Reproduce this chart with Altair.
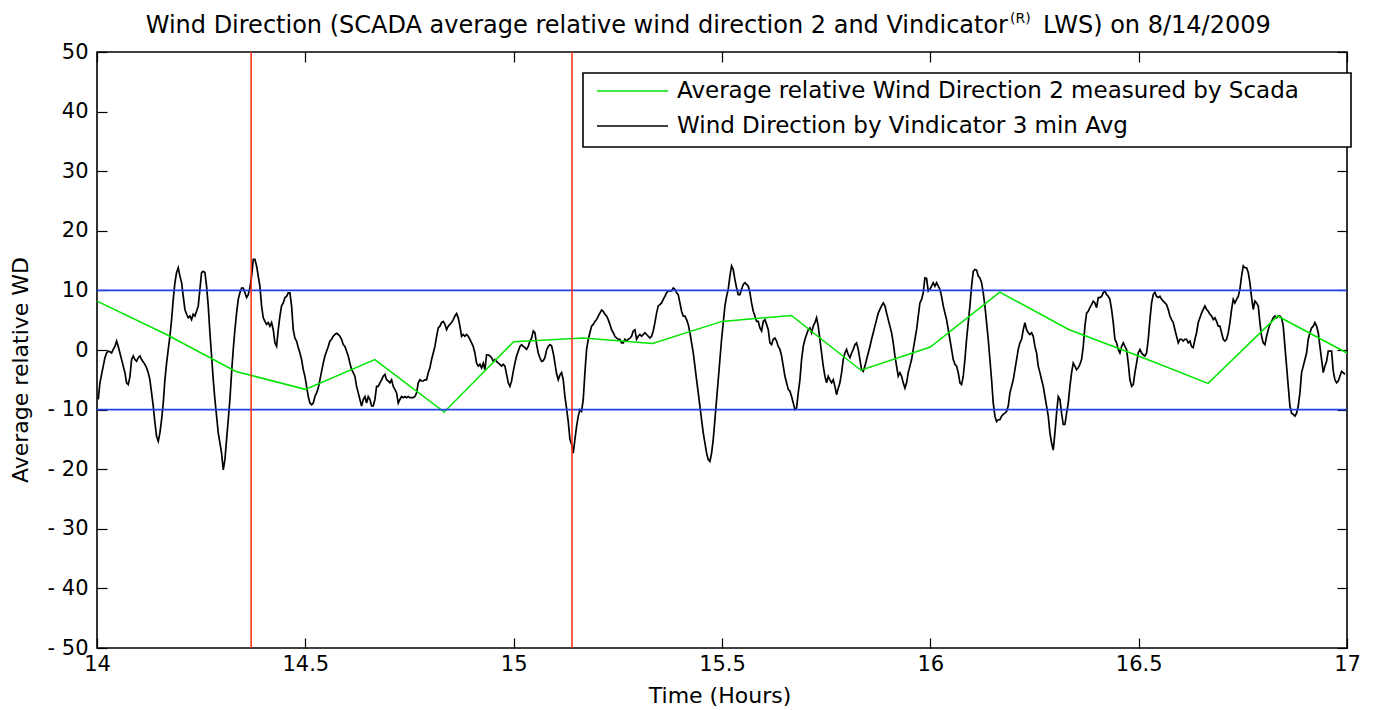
import altair as alt
import pandas as pd

# ---------------- data ----------------
# Vindicator 3-min average wind direction, regularly sampled (every 0.004 h from 14.003 h)
vind_start_hour = 14.003
vind_step_hour = 0.004
vind_part1 = [-8.3, -5.5, -4.1, -2.7, -1.3, -0.5, -0.2, -0.3, -0.5, 0.1,
              0.6, 1.5, 0.6, -0.5, -1.6, -2.7, -3.8, -5.5, -5.8, -4.5,
              -1.6, -1.0, -1.6, -1.9, -1.3, -1.0, -1.6, -2.0, -2.4, -3.0,
              -3.8, -5.0, -7.2, -9.4, -12.2, -14.5, -15.3, -13.9, -11.7, -8.9,
              -5.0, -2.2, 0.1, 2.3, 5.1, 8.5, 11.3, 13.0, 13.8, 12.4,
              11.3, 9.0, 6.8, 6.0, 5.4, 5.7, 5.1, 6.0, 5.7, 6.5,
              7.4, 10.2, 13.0, 13.2, 13.0, 10.7, 7.4, 2.9, -1.0, -5.0,
              -8.3, -11.1, -13.9, -15.6, -17.3, -20.1, -18.4, -15.0, -11.7, -8.3,
              -3.8, 0.1, 3.4, 6.2, 8.5, 9.6, 10.4, 10.4, 9.6, 8.8,
              9.3]
vind_part2 = [10.4, 12.4, 15.2, 15.2, 14.1, 12.4, 10.7, 7.4, 5.4, 4.8,
              4.3, 4.6, 4.0, 4.6, 3.4, 1.2, 0.6, 3.4, 5.7, 7.4,
              7.9, 8.8, 9.0, 9.6, 9.6, 7.4, 3.4, 2.0, 1.5, 0.4,
              -0.5, -1.6, -3.3, -4.4, -6.1, -7.8, -8.9, -9.2, -8.9, -7.8,
              -7.2, -6.4, -5.0, -3.6, -2.2, -1.0, -0.2, 0.6, 1.5, 1.8,
              2.3, 2.6, 2.8, 2.6, 2.3, 1.8, 0.9, 0.6, -0.2, -1.0,
              -2.2, -3.3, -3.8, -4.4, -6.1, -7.2, -8.3, -9.4, -8.3, -7.8,
              -8.9, -7.8, -8.3, -9.4, -9.4, -8.3, -6.1, -6.1, -5.5, -5.0,
              -4.4, -4.1, -5.0, -5.2, -5.5, -5.0, -6.1, -6.6, -7.2, -8.9,
              -8.3, -7.8, -8.0, -7.8, -8.0, -7.8]
vind_part3 = [-8.0, -8.0, -8.0, -7.8, -7.2, -5.5, -5.0, -5.2, -5.2, -5.0,
              -5.0, -3.8, -3.0, -1.6, -0.5, 0.6, 2.3, 3.7, 4.0, 4.6,
              4.8, 4.3, 3.4, 4.0, 4.3, 4.6, 5.1, 5.7, 6.1, 5.4,
              4.0, 2.3, 2.6, 2.3, 2.6, 2.3, 1.8, 1.2, 0.6, -0.5,
              -2.2, -2.7, -2.4, -3.0, -2.2, -3.3, -0.8, -0.8, -1.0, -1.3,
              -1.9, -1.6, -1.9, -2.2, -2.4, -2.7, -2.4, -2.7, -4.1, -5.5,
              -6.1, -5.2, -3.6, -2.2, -1.0, -0.2, 0.6, 0.9, 0.6, 0.4,
              0.1, 0.6, 1.5, 2.0, 3.2, 2.9, 1.0, -0.5, -1.3, -1.9,
              -1.8, -1.3, 0.0, 0.6, 0.9, 0.7, -0.5, -2.2, -4.0, -5.0,
              -4.2, -3.8, -5.0, -7.8, -9.8, -12.0]
vind_part4 = [-15.0, -15.8, -17.3, -15.0, -12.8, -11.1, -10.0, -10.3, -8.3, -3.8,
              0.1, 1.8, 2.9, 4.0, 4.3, 4.8, 5.1, 5.7, 6.2, 6.7,
              6.5, 6.0, 5.7, 5.1, 4.3, 3.4, 2.9, 2.3, 2.0, 1.8,
              1.8, 1.2, 1.2, 1.8, 1.5, 1.8, 2.0, 2.3, 3.2, 3.4,
              1.8, 2.3, 2.6, 2.3, 2.6, 2.9, 2.6, 2.3, 2.0, 2.3,
              3.2, 4.6, 6.2, 7.4, 7.6, 7.9, 8.5, 9.0, 9.6, 9.9,
              9.9, 9.9, 10.4, 10.2, 9.6, 9.3, 7.9, 6.5, 5.7, 5.7,
              5.1, 4.3, 2.9, 1.2, -0.5, -2.7, -5.0, -7.2, -9.4, -11.7,
              -13.9, -15.6, -17.3, -18.4, -18.7, -17.3, -15.0, -11.7, -8.3, -5.0,
              -1.6, 1.8, 4.6, 7.4, 9.0, 10.2]
vind_part5 = [12.4, 14.1, 13.5, 11.8, 10.4, 9.3, 9.3, 10.2, 11.0, 11.3,
              11.0, 10.7, 9.6, 7.9, 6.5, 5.7, 4.8, 4.8, 3.7, 3.2,
              4.8, 5.1, 4.3, 3.4, 1.2, 0.9, 1.8, 2.0, 1.5, 0.6,
              0.1, -1.0, -2.7, -4.4, -5.5, -6.6, -6.9, -7.8, -8.9, -10.0,
              -9.7, -7.2, -5.0, -1.6, 0.6, 1.8, 2.6, 3.4, 3.7, 2.9,
              4.0, 4.6, 5.4, 4.0, 1.8, -0.5, -2.7, -4.4, -5.5, -4.4,
              -5.0, -5.5, -5.0, -6.1, -7.5, -6.4, -5.5, -3.8, -1.6, -0.5,
              0.1, -0.8, -1.3, -0.5, 0.1, 0.9, 1.2, 0.1, -1.6, -3.3,
              -3.6, -2.7, -1.6, -0.5, 0.6, 1.8, 2.9, 4.0, 5.1, 6.2,
              6.8, 7.4, 7.9, 7.4, 6.2, 5.1]
vind_part6 = [4.0, 2.9, 1.2, -1.0, -2.7, -4.4, -3.8, -4.4, -5.5, -6.4,
              -5.5, -3.8, -2.7, -1.6, 0.1, 1.8, 3.4, 5.7, 7.9, 8.5,
              9.6, 12.1, 12.0, 9.9, 10.2, 10.7, 11.3, 10.7, 11.3, 10.7,
              10.2, 9.0, 7.4, 6.2, 5.1, 3.4, 1.8, 0.1, -1.6, -2.4,
              -2.7, -3.8, -5.5, -5.8, -4.4, -1.6, 1.8, 4.6, 7.4, 10.7,
              13.2, 13.5, 13.4, 12.4, 12.1, 11.3, 9.6, 7.4, 4.6, 1.8,
              -1.6, -5.0, -8.9, -11.1, -12.0, -11.7, -11.7, -11.1, -10.8, -10.6,
              -10.3, -9.4, -7.2, -6.1, -5.0, -3.3, -1.6, 0.1, 1.2, 1.8,
              3.4, 4.6, 3.4, 2.9, 2.6, 2.9, 2.3, 0.6, -0.5, -2.7,
              -3.8, -5.0, -6.1, -7.8, -9.4, -11.1]
vind_part7 = [-13.9, -15.6, -16.8, -13.9, -10.6, -7.8, -8.3, -10.6, -12.5, -12.5,
              -10.6, -8.9, -6.1, -3.8, -2.2, -2.7, -3.3, -3.0, -2.4, -1.6,
              0.6, 4.0, 6.2, 6.5, 7.1, 7.6, 8.2, 7.9, 7.1, 8.8,
              8.8, 9.0, 9.6, 9.9, 9.3, 9.0, 8.5, 6.8, 4.6, 1.8,
              1.2, 0.1, -0.5, 0.6, 1.2, 0.6, 0.1, -2.2, -5.0, -6.1,
              -5.8, -3.8, -2.2, -0.5, 0.1, -0.5, -0.8, -1.0, -0.5, 1.8,
              5.1, 7.9, 9.3, 9.7, 9.0, 8.8, 9.0, 8.5, 8.2, 7.9,
              7.6, 6.8, 5.7, 5.1, 4.6, 3.4, 2.3, 1.2, 1.8, 1.8,
              1.5, 1.8, 1.8, 1.2, 1.5, 0.6, 0.4, 1.8, 2.9, 4.6,
              5.4, 6.2, 6.8, 7.4, 6.8, 6.5]
vind_part8 = [6.0, 5.7, 5.1, 5.4, 4.8, 4.0, 4.0, 2.9, 1.8, 1.5,
              1.8, 2.9, 4.6, 6.8, 8.5, 7.9, 8.5, 9.0, 10.2, 12.4,
              14.1, 13.8, 13.8, 13.0, 11.3, 8.8, 6.8, 8.2, 7.9, 7.4,
              4.6, 2.3, 1.2, 0.9, 2.3, 3.4, 4.3, 4.8, 5.4, 5.7,
              5.4, 5.7, 5.7, 5.4, 4.0, 0.6, -2.7, -6.1, -9.4, -10.6,
              -10.8, -11.1, -10.6, -9.4, -7.2, -3.8, -2.7, -1.6, -0.5, 1.8,
              2.9, 3.7, 4.0, 4.6, 4.0, 2.9, 0.6, -1.6, -3.8, -2.7,
              -1.9, -0.2, -0.2, -0.2, -3.5, -5.0, -5.5, -5.2, -4.4, -3.6,
              -3.8, -4.1]

# SCADA average relative wind direction 2 (10-minute values)
scada_hours = [14.0, 14.1667, 14.3333, 14.5, 14.6667, 14.8333, 15.0, 15.1667,
               15.3333, 15.5, 15.6667, 15.8333, 16.0, 16.1667, 16.3333, 16.5,
               16.6667, 16.8333, 17.0]
scada_wd = [8.2, 2.6, -3.6, -6.6, -1.6, -10.4, 1.4, 2.0,
            1.1, 4.8, 5.8, -3.4, 0.5, 9.7, 3.4, -1.0,
            -5.6, 5.7, -0.5]

limit_levels = [10, -10]          # blue horizontal limits
event_hours = [14.37, 15.14]      # red vertical markers

x_ticks = [14, 14.5, 15, 15.5, 16, 16.5, 17]
y_ticks = [-50, -40, -30, -20, -10, 0, 10, 20, 30, 40, 50]
x_domain = [14, 17]
y_domain = [-50, 50]

title_main = "Wind Direction (SCADA average relative wind direction 2 and Vindicator"
title_sup = "(R)"
title_tail = "LWS) on 8/14/2009"
x_title = "Time (Hours)"
y_title = "Average relative WD"
legend_labels = ["Average relative Wind Direction 2 measured by Scada",
                 "Wind Direction by Vindicator 3 min Avg"]

# ---------------- frames ----------------
vind_wd = (vind_part1 + vind_part2 + vind_part3 + vind_part4 +
           vind_part5 + vind_part6 + vind_part7 + vind_part8)
vind_hours = [round(vind_start_hour + vind_step_hour * i, 4) for i in range(len(vind_wd))]
vind_df = pd.DataFrame({"hour": vind_hours, "wd": vind_wd})
scada_df = pd.DataFrame({"hour": scada_hours, "wd": scada_wd})
limit_df = pd.DataFrame({"wd": limit_levels})
event_df = pd.DataFrame({"hour": event_hours})
frame_df = pd.DataFrame({"hour": x_domain, "wd": y_domain})
one = pd.DataFrame({"k": [0]})

FONT = "DejaVu Sans"
GREEN = "#00e600"
BLUE = "#2342e6"
RED = "#ff2a10"

xscale = alt.Scale(domain=x_domain, nice=False, zero=False)
yscale = alt.Scale(domain=y_domain, nice=False, zero=False)

common_axis = dict(grid=False, domain=False, ticks=True, tickSize=10, offset=-10,
                   tickColor="black", tickWidth=1.2, title=None,
                   labelFont=FONT, labelFontSize=21, labelColor="black")

x_axis = alt.Axis(orient="bottom", values=x_ticks, format="~g", labelPadding=5,
                  labelFlush=False, labelOverlap=False, **common_axis)
y_axis = alt.Axis(orient="left", values=y_ticks, labelPadding=9, labelOverlap=False,
                  labelExpr="datum.value < 0 ? '- ' + format(-datum.value, 'd') : format(datum.value, 'd')",
                  **common_axis)

black = alt.Chart(vind_df).mark_line(color="black", strokeWidth=1.7).encode(
    x=alt.X("hour:Q", scale=xscale, axis=x_axis),
    y=alt.Y("wd:Q", scale=yscale, axis=y_axis),
)
green = alt.Chart(scada_df).mark_line(color=GREEN, strokeWidth=1.5).encode(
    x="hour:Q", y="wd:Q")
blue = alt.Chart(limit_df).mark_rule(color=BLUE, strokeWidth=1.6).encode(y="wd:Q")
red = alt.Chart(event_df).mark_rule(color=RED, strokeWidth=1.5).encode(x="hour:Q")
data_layer = alt.layer(black, green, blue, red)

frame = alt.Chart(frame_df).mark_point(opacity=0).encode(
    x=alt.X("hour:Q", scale=xscale,
            axis=alt.Axis(orient="top", values=x_ticks, labels=False, **common_axis)),
    y=alt.Y("wd:Q", scale=yscale,
            axis=alt.Axis(orient="right", values=y_ticks, labels=False, **common_axis)),
)

def txt(s, x, y, size, align="center", baseline="alphabetic", angle=None):
    kw = dict(font=FONT, fontSize=size, color="black", align=align, baseline=baseline)
    if angle is not None:
        kw["angle"] = angle
    return alt.Chart(pd.DataFrame({"t": [s]})).mark_text(**kw).encode(
        x=alt.value(x), y=alt.value(y), text="t:N")

title1 = txt(title_main, 911, -19, 24, align="right")
title2 = txt(title_sup, 913, -29, 14, align="left")
title3 = txt(title_tail, 946, -19, 24, align="left")
xlab = txt(x_title, 623, 651, 22)
ylab = txt(y_title, -76, 318, 22, baseline="middle", angle=270)

legend_box = alt.Chart(one).mark_rect(fill="white", stroke="black", strokeWidth=1.6).encode(
    x=alt.value(486), x2=alt.value(1254), y=alt.value(21), y2=alt.value(95))
leg_g = alt.Chart(one).mark_rule(color=GREEN, strokeWidth=1.5).encode(
    x=alt.value(500), x2=alt.value(571), y=alt.value(39))
leg_k = alt.Chart(one).mark_rule(color="black", strokeWidth=1.5).encode(
    x=alt.value(500), x2=alt.value(571), y=alt.value(74))
leg_t1 = txt(legend_labels[0], 580, 39, 23, align="left", baseline="middle")
leg_t2 = txt(legend_labels[1], 580, 74, 23, align="left", baseline="middle")

chart = alt.layer(
    data_layer, frame, title1, title2, title3, xlab, ylab,
    legend_box, leg_g, leg_k, leg_t1, leg_t2,
).resolve_scale(x="independent", y="independent").properties(
    width=1250, height=596,
    padding={"left": 97, "top": 52, "right": 33, "bottom": 62},
    autosize=alt.AutoSizeParams(type="none"),
    background="white",
).configure_view(stroke="black", strokeWidth=1.6, fill="white")

chart.save("out.html", embed_options={"renderer": "svg", "actions": False})
